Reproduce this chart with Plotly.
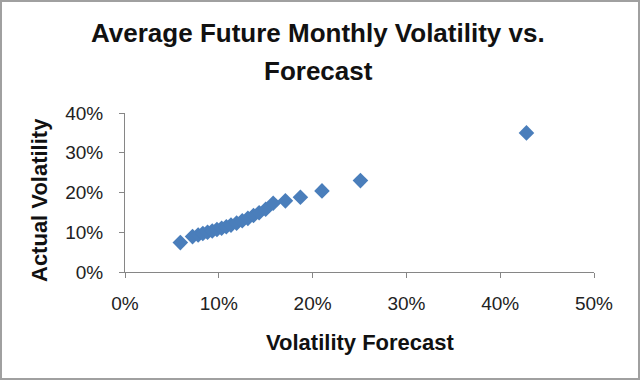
import plotly.graph_objects as go

forecast = [5.9, 7.2, 7.8, 8.3, 8.8, 9.3, 9.8, 10.3, 10.8, 11.3, 11.9, 12.5, 13.1,
            13.7, 14.3, 15.0, 15.8, 17.1, 18.7, 21.0, 25.1, 42.8]
actual = [7.4, 8.9, 9.3, 9.7, 10.0, 10.3, 10.7, 11.0, 11.4, 11.8, 12.3, 12.9, 13.5,
          14.2, 14.9, 15.8, 17.3, 17.9, 18.8, 20.4, 23.0, 35.0]
x_ticks = [0, 10, 20, 30, 40, 50]
y_ticks = [0, 10, 20, 30, 40]
title_lines = ["Average Future Monthly Volatility vs.", "Forecast"]

L, R, T, B = 125, 46, 113, 108
W, H = 640, 380
PW, PH = W - L - R, H - T - B


def px_x(p):
    return (p - L) / PW


def px_y(p):
    return (H - B - p) / PH


fig = go.Figure()
fig.add_trace(go.Scatter(
    x=[v / 100 for v in forecast], y=[v / 100 for v in actual], mode="markers",
    marker=dict(symbol="diamond", size=12, color="#4A7EBB"),
    showlegend=False))

font = "Liberation Sans"
axis_common = dict(showgrid=False, zeroline=False, showline=True, linecolor="#868686",
                   linewidth=1, ticks="outside", ticklen=5, tickcolor="#868686",
                   tickformat=".0%", automargin=False,
                   tickfont=dict(family=font, size=19, color="#222"))
annotations = []
for line, base in zip(title_lines, [43, 81]):
    annotations.append(dict(
        text="<b>%s</b>" % line, xref="paper", yref="paper",
        x=px_x(318), y=px_y(base), xanchor="center", yanchor="bottom",
        yshift=-7, showarrow=False,
        font=dict(family=font, size=26, color="#111")))
annotations.append(dict(
    text="<b>Actual Volatility</b>", xref="paper", yref="paper",
    x=px_x(39), y=px_y(200), xanchor="center", yanchor="middle",
    textangle=-90, showarrow=False,
    font=dict(family=font, size=22, color="#111")))
annotations.append(dict(
    text="<b>Volatility Forecast</b>", xref="paper", yref="paper",
    x=px_x(360), y=px_y(342), xanchor="center", yanchor="middle",
    showarrow=False,
    font=dict(family=font, size=22, color="#111")))

fig.update_layout(
    width=W, height=H,
    margin=dict(l=L, r=R, t=T, b=B),
    paper_bgcolor="white", plot_bgcolor="white",
    annotations=annotations,
    xaxis=dict(range=[0, 0.5], tickvals=[v / 100 for v in x_ticks], ticklabelstandoff=9,
               **axis_common),
    yaxis=dict(range=[0, 0.4], tickvals=[v / 100 for v in y_ticks], ticklabelstandoff=12,
               **axis_common),
    shapes=[dict(type="rect", xref="paper", yref="paper",
                 x0=-(L - 1) / PW, x1=(PW + R - 1) / PW,
                 y0=-(B - 1) / PH, y1=(PH + T - 1) / PH,
                 line=dict(color="#A0A0A0", width=2))],
)
fig.write_html("out.html", config={"displayModeBar": False},
               post_script="document.body.style.margin='0';")
